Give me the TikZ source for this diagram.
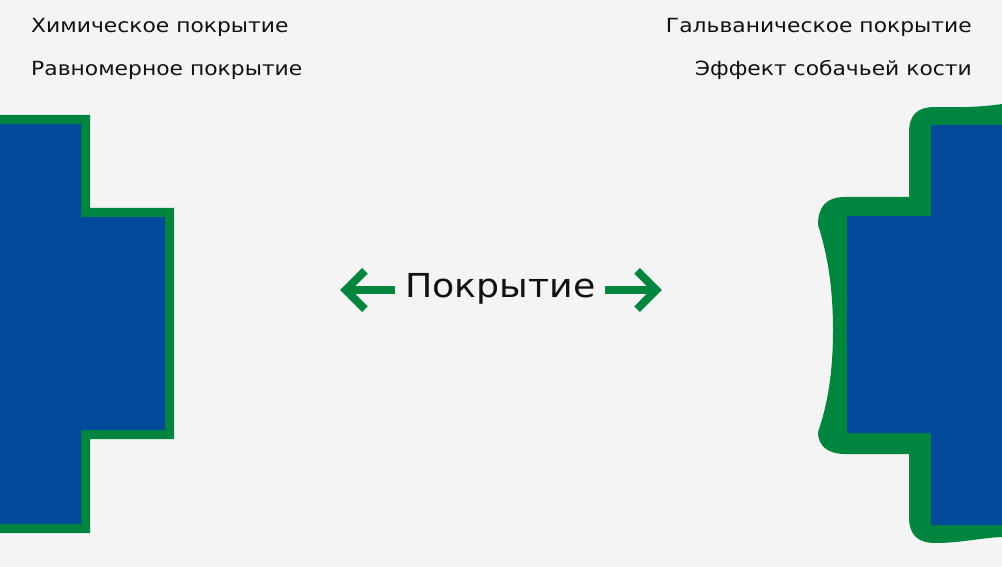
\documentclass[tikz,border=0pt]{standalone}
\usepackage{fontspec}
\setmainfont{DejaVu Sans}
\newfontfamily\widefont[FakeStretch=1.12]{DejaVu Sans}
\newfontfamily\midfont[FakeStretch=1.1]{DejaVu Sans}
\definecolor{coatgreen}{RGB}{0,133,62}
\definecolor{baseblue}{RGB}{0,74,153}
\definecolor{bgcol}{RGB}{244,244,244}
\definecolor{txtcol}{RGB}{17,17,17}
\tikzset{
  toptext/.style={inner sep=0pt,text=txtcol,font=\widefont\fontsize{19.5}{22}\selectfont},
  midtext/.style={inner sep=0pt,text=txtcol,font=\midfont\fontsize{33}{38}\selectfont},
  coatline/.style={draw=coatgreen,line width=8pt,line cap=butt,line join=miter}
}

\begin{document}
\begin{tikzpicture}[x=1pt,y=-1pt]
    %background
    \fill[bgcol] (0,0) rectangle (1002,567);
    %left part
    \fill[coatgreen] (0,115) -| (90,208) -| (174,439) -| (90,533) -- (0,533) -- cycle;
    \fill[baseblue] (0,124) -| (81,217) -| (165,430) -| (81,524) -- (0,524) -- cycle;
    %right part (dog bone)
    \fill[coatgreen] (1002,104) .. controls (975,108) and (955,107) .. (935,107)
        .. controls (916,107) and (909,116) .. (909,133) -- (909,197) -- (845,197)
        .. controls (826,197) and (818,207) .. (818,225)
        .. controls (830,262) and (833,298) .. (833,330)
        .. controls (833,362) and (830,398) .. (818,432)
        .. controls (818,446) and (828,454) .. (845,454) -- (909,454) -- (909,517)
        .. controls (909,534) and (917,543) .. (935,543)
        .. controls (960,543) and (980,538) .. (1002,537) -- cycle;
    \fill[baseblue] (1002,125) -- (931,125) |- (847,216) |- (931,433) |- (1002,525) -- cycle;
    %texts
    \node[toptext,anchor=base west] (chem) at (31,33) {Химическое покрытие};
    \node[toptext,anchor=base west] (even) at (31,76) {Равномерное покрытие};
    \node[toptext,anchor=base east] (galv) at (972,33) {Гальваническое покрытие};
    \node[toptext,anchor=base east] (bone) at (972,76) {Эффект собачьей кости};
    \node[midtext,anchor=base] (coat) at (500.5,297) {Покрытие};
    %arrows
    \coordinate (ls) at (395,290);
    \coordinate (lt) at (345.7,290);
    \coordinate (rs) at (605,290);
    \coordinate (rt) at (656.3,290);
    \draw[coatline] (ls) -- (lt);
    \draw[coatline] ([shift={(19.2,-19.2)}]lt) -- (lt) -- ([shift={(19.2,19.2)}]lt);
    \draw[coatline] (rs) -- (rt);
    \draw[coatline] ([shift={(-19.2,-19.2)}]rt) -- (rt) -- ([shift={(-19.2,19.2)}]rt);
\end{tikzpicture}
\end{document}
